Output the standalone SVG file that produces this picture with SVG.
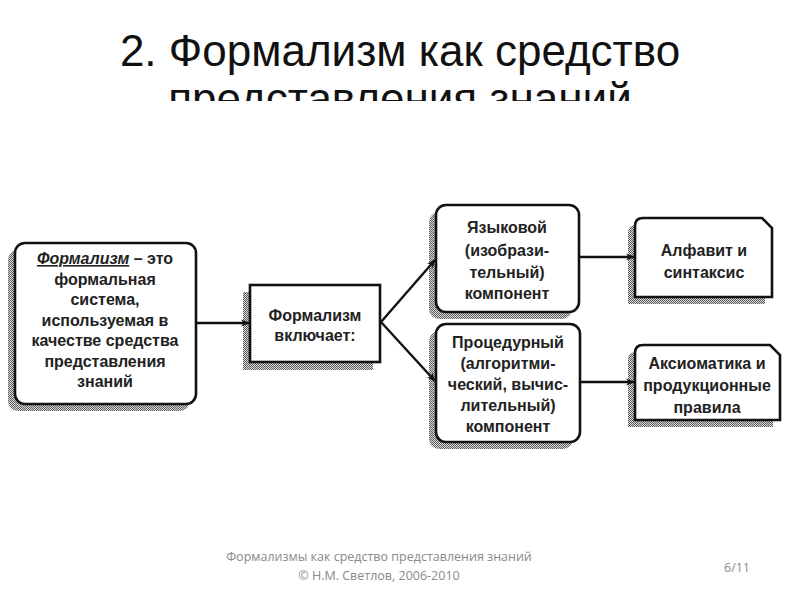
<svg xmlns="http://www.w3.org/2000/svg" width="800" height="600" viewBox="0 0 800 600">
<defs>
<pattern id="dots" width="2" height="2" patternUnits="userSpaceOnUse">
<rect width="2" height="2" fill="#dcdcdc"/>
<rect width="1" height="1" fill="#5a5a5a"/>
<rect x="1" y="1" width="1" height="1" fill="#5a5a5a"/>
</pattern>
<marker id="arr" viewBox="0 0 10 10" refX="9" refY="5" markerWidth="9" markerHeight="9" markerUnits="userSpaceOnUse" orient="auto">
<path d="M0,1 L10,5 L0,9 L3,5 Z" fill="#111"/>
</marker>
<clipPath id="titleclip"><rect x="0" y="0" width="800" height="101"/></clipPath>
</defs>
<style>
.box{fill:#fff;stroke:#111;stroke-width:2.6}
.sh{fill:url(#dots);stroke:none}
.t{font-family:"Liberation Sans",Arial,sans-serif;font-size:16px;font-weight:bold;fill:#222;text-anchor:middle}
.con{stroke:#111;stroke-width:2.4;fill:none;marker-end:url(#arr)}
.title{font-family:"Liberation Sans",Arial,sans-serif;font-size:44px;fill:#111;text-anchor:middle}
.foot{font-family:"Open Sans","DejaVu Sans",sans-serif;font-size:12.5px;fill:#8a8a8a;text-anchor:middle}
</style>
<rect width="800" height="600" fill="#fff"/>
<g id="title" clip-path="url(#titleclip)">
<text class="title" x="400" y="66">2. Формализм как средство</text>
<text class="title" x="400" y="114">представления знаний</text>
</g>
<g id="n-def">
<rect class="sh" x="8" y="250" width="182" height="161" rx="10"/>
<rect class="box" x="15" y="243" width="181" height="161" rx="10"/>
<text class="t" x="105" y="264"><tspan font-style="italic" text-decoration="underline">Формализм</tspan> – это</text>
<text class="t" x="105" y="284.5">формальная</text>
<text class="t" x="105" y="305">система,</text>
<text class="t" x="105" y="325.5">используемая в</text>
<text class="t" x="105" y="346">качестве средства</text>
<text class="t" x="105" y="366.5">представления</text>
<text class="t" x="105" y="387">знаний</text>
</g>
<g id="n-incl">
<rect class="sh" x="243" y="292" width="130" height="78"/>
<rect class="box" x="250" y="285" width="130" height="77"/>
<text class="t" x="315" y="321">Формализм</text>
<text class="t" x="315" y="341">включает:</text>
</g>
<g id="n-lang">
<rect class="sh" x="429" y="212" width="143" height="107" rx="10"/>
<rect class="box" x="436" y="205" width="143" height="107" rx="10"/>
<text class="t" x="507" y="233">Языковой</text>
<text class="t" x="507" y="256">(изобрази-</text>
<text class="t" x="507" y="278">тельный)</text>
<text class="t" x="507" y="299">компонент</text>
</g>
<g id="n-proc">
<rect class="sh" x="429" y="331" width="144" height="118" rx="10"/>
<rect class="box" x="436" y="324" width="144" height="118" rx="10"/>
<text class="t" x="508" y="348">Процедурный</text>
<text class="t" x="508" y="369">(алгоритми-</text>
<text class="t" x="508" y="390">ческий, вычис-</text>
<text class="t" x="508" y="411">лительный)</text>
<text class="t" x="508" y="432">компонент</text>
</g>
<g id="n-alpha">
<path class="sh" d="M628,304 L628,233 Q628,225 636,225 L755,225 L765,235 L765,304 Z"/>
<path class="box" d="M635,297 L635,226 Q635,218 643,218 L762,218 L772,228 L772,297 Z"/>
<text class="t" x="704" y="256">Алфавит и</text>
<text class="t" x="704" y="278">синтаксис</text>
</g>
<g id="n-axiom">
<path class="sh" d="M628,427 L628,360 Q628,352 636,352 L763,352 L773,362 L773,427 Z"/>
<path class="box" d="M635,420 L635,353 Q635,345 643,345 L770,345 L780,355 L780,420 Z"/>
<text class="t" x="707" y="369">Аксиоматика и</text>
<text class="t" x="707" y="391">продукционные</text>
<text class="t" x="707" y="413">правила</text>
</g>
<g id="connectors">
<line class="con" x1="196" y1="323" x2="249" y2="323"/>
<line class="con" x1="381" y1="322" x2="435" y2="260"/>
<line class="con" x1="381" y1="322" x2="435" y2="381"/>
<line class="con" x1="579" y1="257" x2="634" y2="257"/>
<line class="con" x1="580" y1="382" x2="634" y2="382"/>
</g>
<g id="footer">
<text class="foot" x="379" y="561">Формализмы как средство представления знаний</text>
<text class="foot" x="379" y="580">© Н.М. Светлов, 2006-2010</text>
<text class="foot" x="737" y="572">6/11</text>
</g>
</svg>
